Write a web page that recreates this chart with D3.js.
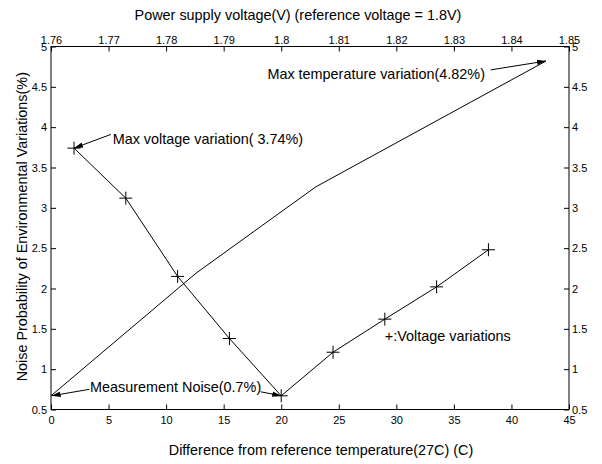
<!DOCTYPE html>
<html><head><meta charset="utf-8">
<script src="https://cdn.jsdelivr.net/npm/d3@7"></script>
<style>
html,body{margin:0;padding:0;background:#fff;}
text{font-family:"Liberation Sans",Arial,Helvetica,sans-serif;fill:#000;}
</style></head>
<body>
<svg id="chart" width="602" height="464"></svg>
<script>
// ---- data ----
const tempDiff = [0, 12.6, 23, 43];                 // temperature difference (C)
const tempNoise = [0.67, 2.19, 3.26, 4.82];          // % (no markers)
const voltage = [1.764, 1.773, 1.782, 1.791, 1.80, 1.809, 1.818, 1.827, 1.836];
const voltNoise = [3.74, 3.12, 2.15, 1.38, 0.67, 1.21, 1.62, 2.02, 2.48];
const bottomTicks = [0, 5, 10, 15, 20, 25, 30, 35, 40, 45];
const topTicks = [1.76, 1.77, 1.78, 1.79, 1.8, 1.81, 1.82, 1.83, 1.84, 1.85];
const yTicks = [0.5, 1, 1.5, 2, 2.5, 3, 3.5, 4, 4.5, 5];
const xTitle = "Difference from reference temperature(27C) (C)";
const topTitle = "Power supply voltage(V) (reference voltage = 1.8V)";
const yTitle = "Noise Probability of Environmental Variations(%)";
const legendText = "+:Voltage variations";
// annotations: text anchor (x,y in data), arrows from -> to (bottom-axis data units)
const annotations = [
  {text: "Max voltage variation( 3.74%)", tx: 5.36, ty: 3.86, arrows: [[5.2, 3.91, 2, 3.74]]},
  {text: "Measurement Noise(0.7%)", tx: 3.39, ty: 0.78, arrows: [[3.33, 0.75, 0.06, 0.67], [18.2, 0.72, 20, 0.67]]},
  {text: "Max temperature variation(4.82%)", tx: 18.8, ty: 4.66, arrows: [[38.2, 4.71, 43, 4.82]]}
];
const legendPos = [29.0, 1.41];

// ---- layout ----
const svg = d3.select("#chart");
const L = 51, R = 569, T = 46.5, B = 409.5;
const FS = 14.4, TFS = 11;
const x = d3.scaleLinear().domain([0, 45]).range([L, R]);
const xTop = d3.scaleLinear().domain([1.76, 1.85]).range([L, R]);
const y = d3.scaleLinear().domain([0.5, 5]).range([B, T]);

svg.append("defs").append("marker")
  .attr("id", "ah").attr("viewBox", "0 0 10 10").attr("refX", 10).attr("refY", 5)
  .attr("markerWidth", 9).attr("markerHeight", 9).attr("markerUnits", "userSpaceOnUse")
  .attr("orient", "auto")
  .append("path").attr("d", "M0,2 L10,5 L0,8 Z").attr("fill", "#000");

// frame
svg.append("rect").attr("x", L).attr("y", T).attr("width", R - L).attr("height", B - T)
  .attr("fill", "none").attr("stroke", "#000").attr("stroke-width", 1);

const fmt = d => String(d);
const tl = 5;
const axB = d3.axisBottom(x).tickValues(bottomTicks).tickFormat(fmt).tickSizeInner(-tl).tickSizeOuter(0).tickPadding(7);
const axT = d3.axisTop(xTop).tickValues(topTicks).tickFormat(fmt).tickSizeInner(-tl).tickSizeOuter(0).tickPadding(3);
const axL = d3.axisLeft(y).tickValues(yTicks).tickFormat(fmt).tickSizeInner(-tl).tickSizeOuter(0).tickPadding(4);
const axR = d3.axisRight(y).tickValues(yTicks).tickFormat(fmt).tickSizeInner(-tl).tickSizeOuter(0).tickPadding(3);

function style(g) {
  g.select(".domain").remove();
  g.selectAll("line").attr("stroke", "#000");
  g.selectAll("text").attr("font-size", TFS).attr("font-family", "Liberation Sans, Arial, sans-serif").attr("fill", "#000");
}
svg.append("g").attr("transform", `translate(0,${B})`).call(axB).call(style);
svg.append("g").attr("transform", `translate(0,${T})`).call(axT).call(style);
svg.append("g").attr("transform", `translate(${L},0)`).call(axL).call(style);
svg.append("g").attr("transform", `translate(${R},0)`).call(axR).call(style);

// titles
svg.append("text").attr("x", 298).attr("y", 15.4).attr("dy", "0.35em").attr("text-anchor", "middle").attr("font-size", FS).text(topTitle);
svg.append("text").attr("x", 321).attr("y", 449.5).attr("dy", "0.35em").attr("text-anchor", "middle").attr("font-size", FS).text(xTitle);
svg.append("text").attr("transform", `translate(21.7,226.7) rotate(-90)`).attr("dy", "0.35em").attr("text-anchor", "middle").attr("font-size", FS).text(yTitle);

// temperature line
const tData = tempDiff.map((d, i) => [d, tempNoise[i]]);
svg.append("path").datum(tData)
  .attr("d", d3.line().x(d => x(d[0])).y(d => y(d[1])))
  .attr("fill", "none").attr("stroke", "#000").attr("stroke-width", 1);

// voltage line with + markers
const vData = voltage.map((d, i) => [d, voltNoise[i]]);
svg.append("path").datum(vData)
  .attr("d", d3.line().x(d => xTop(d[0])).y(d => y(d[1])))
  .attr("fill", "none").attr("stroke", "#000").attr("stroke-width", 1);
svg.append("g").selectAll("path.plus").data(vData).join("path")
  .attr("d", d => { const cx = xTop(d[0]), cy = y(d[1]), s = 6.5; return `M${cx - s},${cy}H${cx + s}M${cx},${cy - s}V${cy + s}`; })
  .attr("stroke", "#000").attr("stroke-width", 1).attr("fill", "none");

// annotations
annotations.forEach(a => {
  svg.append("text").attr("x", x(a.tx)).attr("y", y(a.ty)).attr("dy", "0.35em").attr("font-size", FS).text(a.text);
  a.arrows.forEach(ar => {
    svg.append("line").attr("x1", x(ar[0])).attr("y1", y(ar[1])).attr("x2", x(ar[2])).attr("y2", y(ar[3]))
      .attr("stroke", "#000").attr("stroke-width", 1).attr("marker-end", "url(#ah)");
  });
});
svg.append("text").attr("x", x(legendPos[0])).attr("y", y(legendPos[1])).attr("dy", "0.35em").attr("font-size", FS).text(legendText);
</script>
</body></html>
